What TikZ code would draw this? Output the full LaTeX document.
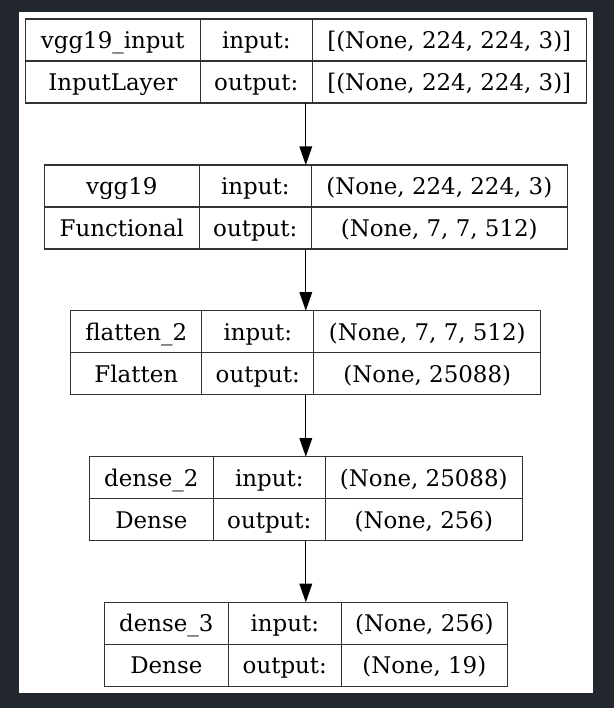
\documentclass[tikz,border=0pt]{standalone}
\usepackage{fontspec}
\setmainfont{DejaVu Serif}
\usetikzlibrary{arrows.meta,positioning}

\definecolor{panelbg}{RGB}{35,39,46}
\newcommand{\px}{0.75pt}

\tikzset{
    cell/.style={draw=black!80,line width=1pt,minimum height=42*\px,
        inner sep=0pt,outer sep=0pt,text height=12.5pt,text depth=0pt,
        font=\fontsize{17.2}{19}\selectfont},
    flow/.style={line width=1pt,-{Triangle[length=14pt,width=9.5pt]}},
}

%% one layer record: id, top, three column widths, name, class, in, out
\newcommand{\layerbox}[9]{%
    \pgfmathsetmacro{\boxleft}{305.8-(#3+#4+#5)/2}
    \node[cell,anchor=north west,minimum width=#3*\px] (#1-name) at (\boxleft,#2) {#6};
    \node[cell,below=0pt of #1-name,minimum width=#3*\px] (#1-class) {#7};
    \node[cell,right=0pt of #1-name,minimum width=#4*\px] (#1-inl) {input:};
    \node[cell,right=0pt of #1-class,minimum width=#4*\px] (#1-outl) {output:};
    \node[cell,right=0pt of #1-inl,minimum width=#5*\px] (#1-in) {#8};
    \node[cell,right=0pt of #1-outl,minimum width=#5*\px] (#1-out) {#9};
    \coordinate (#1-top) at (305.8,#2);
    \coordinate (#1-bot) at (305.8,#2+84);
}

\begin{document}
\begin{tikzpicture}[x=\px,y=-\px]
    %% page and panel
    \fill[panelbg] (0,0) rectangle (614,708);
    \fill[white] (19,12) rectangle (593.3,693.3);
    %% layers
    \layerbox{L1}{19}{175}{112}{274}{vgg19\_input}{InputLayer}{[(None, 224, 224, 3)]}{[(None, 224, 224, 3)]}
    \layerbox{L2}{165}{155}{112}{256}{vgg19}{Functional}{(None, 224, 224, 3)}{(None, 7, 7, 512)}
    \layerbox{L3}{310.7}{131}{112}{227}{flatten\_2}{Flatten}{(None, 7, 7, 512)}{(None, 25088)}
    \layerbox{L4}{456.7}{124}{112}{197}{dense\_2}{Dense}{(None, 25088)}{(None, 256)}
    \layerbox{L5}{602.3}{124}{113}{166}{dense\_3}{Dense}{(None, 256)}{(None, 19)}
    %% connections
    \foreach \a/\b in {L1/L2,L2/L3,L3/L4,L4/L5}
        \draw[flow] (\a-bot) -- (\b-top);
\end{tikzpicture}
\end{document}
